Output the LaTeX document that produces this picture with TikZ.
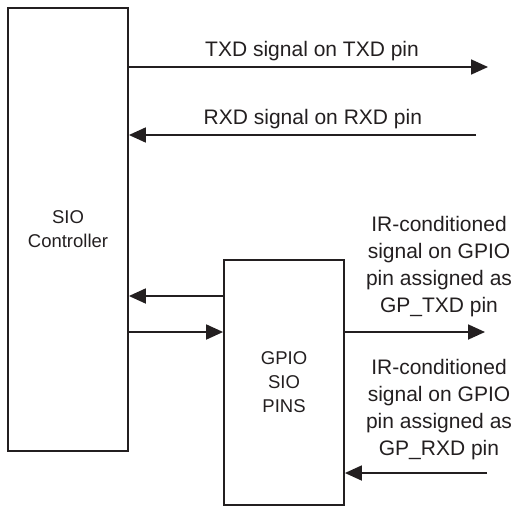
\documentclass[tikz,border=0pt]{standalone}
\usepackage{fontspec}
\setmainfont{Liberation Sans}
\usetikzlibrary{arrows.meta,positioning}
\definecolor{cink}{HTML}{231F20}

\begin{document}
\begin{tikzpicture}[
    x=1pt, y=-1pt,
    >={Triangle[length=17pt, width=15pt]},
    sig/.style={->, line width=1.8pt, draw=cink},
    blk/.style={draw=cink, line width=1.8pt, align=center, inner sep=0pt,
                minimum width=120pt, text=cink, font=\fontsize{18.5}{24}\selectfont},
    lbl/.style={font=\fontsize{21}{27}\selectfont, text=cink, inner sep=0pt, align=center},
  ]
  \useasboundingbox (0,0) rectangle (518,506);
  \node[blk, minimum height=443pt] (SIO) at (68,229.5) {SIO\\Controller};
  \node[blk, minimum height=245pt] (GPIO) at (284,382.5) {GPIO\\SIO\\PINS};
  \coordinate (TXDout) at (488,67);
  \coordinate (RXDin) at (476,135);
  \coordinate (back) at (0,296);
  \coordinate (fwd) at (0,332);
  \coordinate (GPTXDout) at (485,332);
  \coordinate (GPRXDin) at (487,473);

  \draw[sig] (SIO.east |- TXDout) -- node[lbl, above=5.5pt, pos=0.51] (TXDlbl) {TXD signal on TXD pin} (TXDout);
  \draw[sig] (RXDin) -- node[lbl, above=5.5pt, pos=0.47] (RXDlbl) {RXD signal on RXD pin} (SIO.east |- RXDin);
  \draw[sig] (GPIO.west |- back) -- (SIO.east |- back);
  \draw[sig] (SIO.east |- fwd) -- (GPIO.west |- fwd);
  \draw[sig] (GPIO.east |- GPTXDout) -- (GPTXDout);
  \draw[sig] (GPRXDin) -- (GPIO.east |- GPRXDin);

  \node[lbl, anchor=south] (GPTXDlbl) at (439,317.4) {IR-conditioned\\signal on GPIO\\pin assigned as\\GP\_TXD pin};
  \node[lbl, anchor=south] (GPRXDlbl) at (439,460.4) {IR-conditioned\\signal on GPIO\\pin assigned as\\GP\_RXD pin};
\end{tikzpicture}
\end{document}
